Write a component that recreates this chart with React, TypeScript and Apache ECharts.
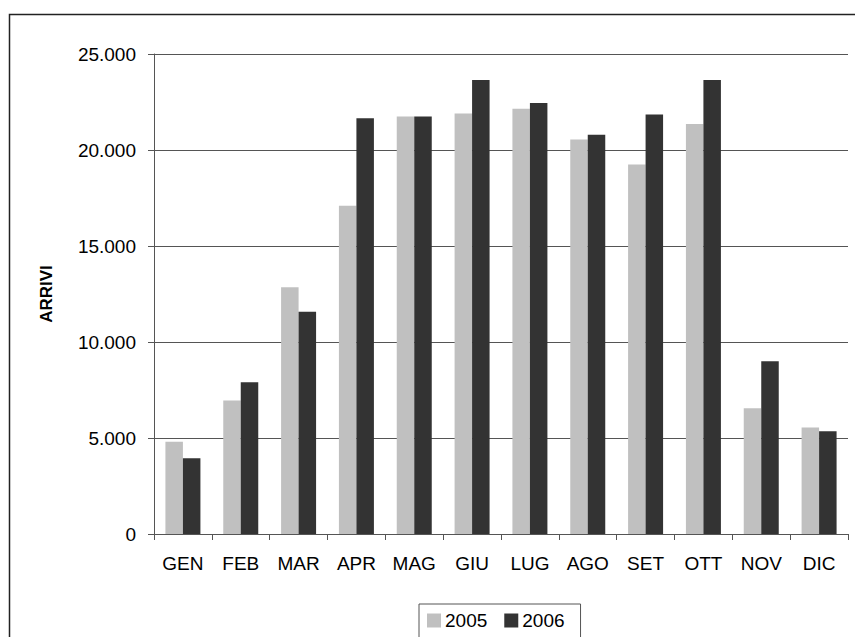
import React, { useEffect, useRef } from "react";
import * as echarts from "echarts";

const categories = ["GEN", "FEB", "MAR", "APR", "MAG", "GIU", "LUG", "AGO", "SET", "OTT", "NOV", "DIC"];
const values2005 = [4800, 6950, 12850, 17100, 21750, 21900, 22150, 20550, 19250, 21350, 6550, 5550];
const values2006 = [3950, 7900, 11575, 21650, 21750, 23650, 22450, 20800, 21850, 23650, 9000, 5350];
const seriesNames = ["2005", "2006"];
const yTicks = { min: 0, max: 25000, interval: 5000 };

const FONT = "'Liberation Sans', Arial, sans-serif";

function fmt(v: number): string {
  if (v === 0) return "0";
  const s = String(Math.round(v));
  return s.replace(/\B(?=(\d{3})+(?!\d))/g, ".");
}

export default function App() {
  const ref = useRef<HTMLDivElement>(null);
  useEffect(() => {
    if (!ref.current) return;
    const chart = echarts.init(ref.current, null, { renderer: "svg" });
    chart.setOption({
      animation: false,
      backgroundColor: "#ffffff",
      textStyle: { fontFamily: FONT },
      grid: { left: 154, right: 7, top: 54, bottom: 103 },
      graphic: [
        {
          type: "rect",
          shape: { x: 9.5, y: 14.5, width: 860, height: 650 },
          style: { fill: "none", stroke: "#222", lineWidth: 1.5 },
          silent: true,
          z: 100,
        },
      ],
      legend: {
        data: seriesNames,
        left: 419,
        top: 604,
        orient: "horizontal",
        padding: [7, 16, 40, 8],
        itemGap: 17,
        itemWidth: 14,
        itemHeight: 14,
        borderColor: "#555",
        borderWidth: 1,
        icon: "rect",
        textStyle: { fontFamily: FONT, fontSize: 19, color: "#000", padding: [0, 0, 0, -1] },
      },
      xAxis: {
        type: "category",
        data: categories,
        axisLine: { lineStyle: { color: "#555", width: 1 } },
        axisTick: { show: true, length: 6, lineStyle: { color: "#555" } },
        axisLabel: { fontFamily: FONT, fontSize: 19, color: "#000", margin: 20 },
      },
      yAxis: {
        type: "value",
        min: yTicks.min,
        max: yTicks.max,
        interval: yTicks.interval,
        name: "ARRIVI",
        nameLocation: "middle",
        nameGap: 99,
        nameRotate: 90,
        nameTextStyle: { fontFamily: FONT, fontSize: 17, fontWeight: "bold", color: "#000" },
        axisLine: { show: true, lineStyle: { color: "#555", width: 1 } },
        axisTick: { show: true, length: 6, lineStyle: { color: "#555" } },
        axisLabel: { fontFamily: FONT, fontSize: 19, color: "#000", margin: 18, formatter: fmt },
        splitLine: { show: true, lineStyle: { color: "#555", width: 1 } },
      },
      series: [
        {
          name: seriesNames[0],
          type: "bar",
          data: values2005,
          barWidth: 17.5,
          barGap: "0%",
          itemStyle: { color: "#c0c0c0" },
        },
        {
          name: seriesNames[1],
          type: "bar",
          data: values2006,
          barWidth: 17.5,
          barGap: "0%",
          itemStyle: { color: "#333333" },
        },
      ],
    });
    return () => chart.dispose();
  }, []);
  return (
    <div
      ref={ref}
      style={{ position: "fixed", left: 0, top: 0, width: 855, height: 637, background: "#fff" }}
    />
  );
}
